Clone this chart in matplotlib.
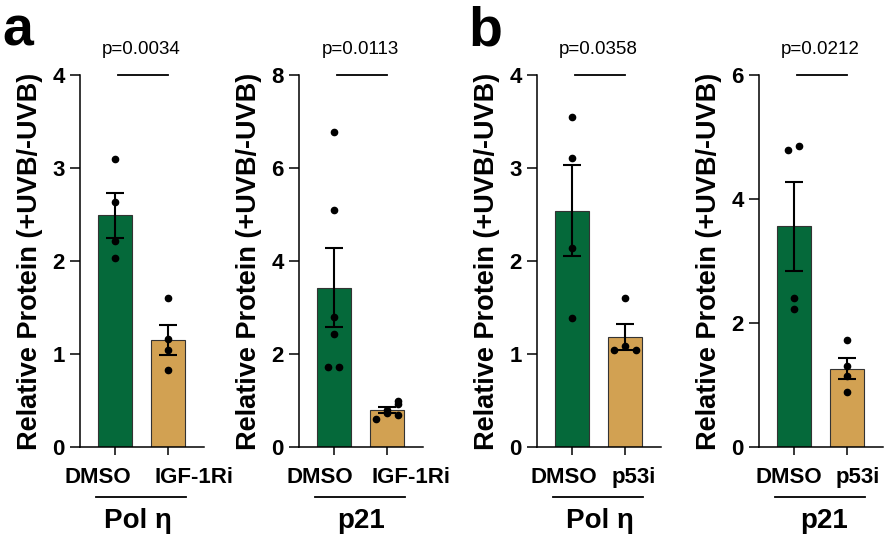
import numpy as np
import matplotlib
matplotlib.use('Agg')
import matplotlib.pyplot as plt

plt.rcParams['font.family'] = ['Liberation Sans', 'DejaVu Sans']

groups = ['Pol η', 'p21', 'Pol η', 'p21']
treatments = [['DMSO', 'IGF-1Ri'], ['DMSO', 'IGF-1Ri'], ['DMSO', 'p53i'], ['DMSO', 'p53i']]
pvalues = ['p=0.0034', 'p=0.0113', 'p=0.0358', 'p=0.0212']
ymax = [4, 8, 4, 6]
yticks = [[0, 1, 2, 3, 4], [0, 2, 4, 6, 8], [0, 1, 2, 3, 4], [0, 2, 4, 6]]

# bar means and SEM
means = [[2.49, 1.15], [3.42, 0.79], [2.54, 1.18], [3.56, 1.26]]
sems = [[0.24, 0.16], [0.85, 0.065], [0.49, 0.14], [0.72, 0.17]]

# individual replicates
points = [
    [[3.10, 2.63, 2.22, 2.03], [1.60, 1.16, 1.04, 0.83]],
    [[6.78, 5.09, 2.79, 2.44, 1.73, 1.73], [0.99, 0.92, 0.80, 0.73, 0.69, 0.60]],
    [[3.55, 3.11, 2.14, 1.39], [1.60, 1.09, 1.04, 1.04]],
    [[4.85, 4.79, 2.40, 2.23], [1.73, 1.30, 1.14, 0.89]],
]
# horizontal offsets of the dots (px)
offsets = [
    [[0, 0, 0, 0], [0, 0, 0, 0]],
    [[0, 0, 0, 0, -6, 5], [11, 11, 0, 0, 11, -11]],
    [[0, 0, 0, 0], [0, 0, -11, 11]],
    [[5, -6, 0, 0], [0, 0, 0, 0]],
]
# horizontal shift of the category labels (px) and group label position
label_shift = [[-17.5, 26], [-14, 24], [-8.5, 9], [-5, 11]]
group_x = [0.43, 0.52, 0.53, 0.57]

colors = ['#05693a', '#d2a152']
W, H = 890, 542
fig = plt.figure(figsize=(W / 100, H / 100), dpi=100)

lefts = [80, 299, 537, 759]
px_per_unit = 53.0
for k in range(4):
    ax = fig.add_axes([lefts[k] / W, (H - 447) / H, 124 / W, 372 / H])
    x = np.arange(2)
    ax.bar(x, means[k], width=0.64, color=colors, edgecolor='#333333', linewidth=0.8, zorder=1)
    ax.errorbar(x, means[k], yerr=sems[k], fmt='none', ecolor='black', elinewidth=1.5,
                capsize=6.5, capthick=1.5, zorder=3)
    for j in range(2):
        xs = j + np.array(offsets[k][j]) / px_per_unit
        ax.plot(xs, points[k][j], 'o', color='black', markersize=4.5, zorder=4, clip_on=False)
    ax.set_xlim(-0.66, 1.68)
    ax.set_ylim(0, ymax[k])
    ax.set_yticks(yticks[k])
    ax.set_yticklabels([str(t) for t in yticks[k]], fontsize=16, fontweight='bold')
    ax.set_xticks(x)
    ax.set_xticklabels([])
    ax.spines['top'].set_visible(False)
    ax.spines['right'].set_visible(False)
    ax.spines['left'].set_linewidth(1.1)
    ax.spines['bottom'].set_linewidth(1.1)
    ax.tick_params(axis='y', length=7, width=1.1, pad=4)
    ax.tick_params(axis='x', length=6, width=1.1)
    ax.set_ylabel('Relative Protein (+UVB/-UVB)', fontsize=19.5, fontweight='bold')
    ax.yaxis.set_label_coords(-0.30, 0.5)

    trans = ax.get_xaxis_transform()
    for j in range(2):
        ax.text(j + label_shift[k][j] / px_per_unit, -0.081, treatments[k][j], transform=trans,
                ha='center', va='center', fontsize=16, fontweight='bold')
    ax.plot([-0.36, 1.34], [-0.135, -0.135], color='black', lw=1.3, transform=trans, clip_on=False)
    ax.text(group_x[k], -0.20, groups[k], transform=trans, ha='center', va='center',
            fontsize=20, fontweight='bold')
    ax.plot([0.05, 1.0], [1.0, 1.0], color='black', lw=1.3, transform=trans, clip_on=False)
    ax.text(0.5, 1.045, pvalues[k], transform=trans, ha='center', va='bottom', fontsize=13.5)

fig.text(2 / W, 1 - 45 / H, 'a', fontsize=40, fontweight='bold', ha='left', va='baseline')
fig.text(468 / W, 1 - 45 / H, 'b', fontsize=40, fontweight='bold', ha='left', va='baseline')

fig.savefig('out.png', dpi=100)
